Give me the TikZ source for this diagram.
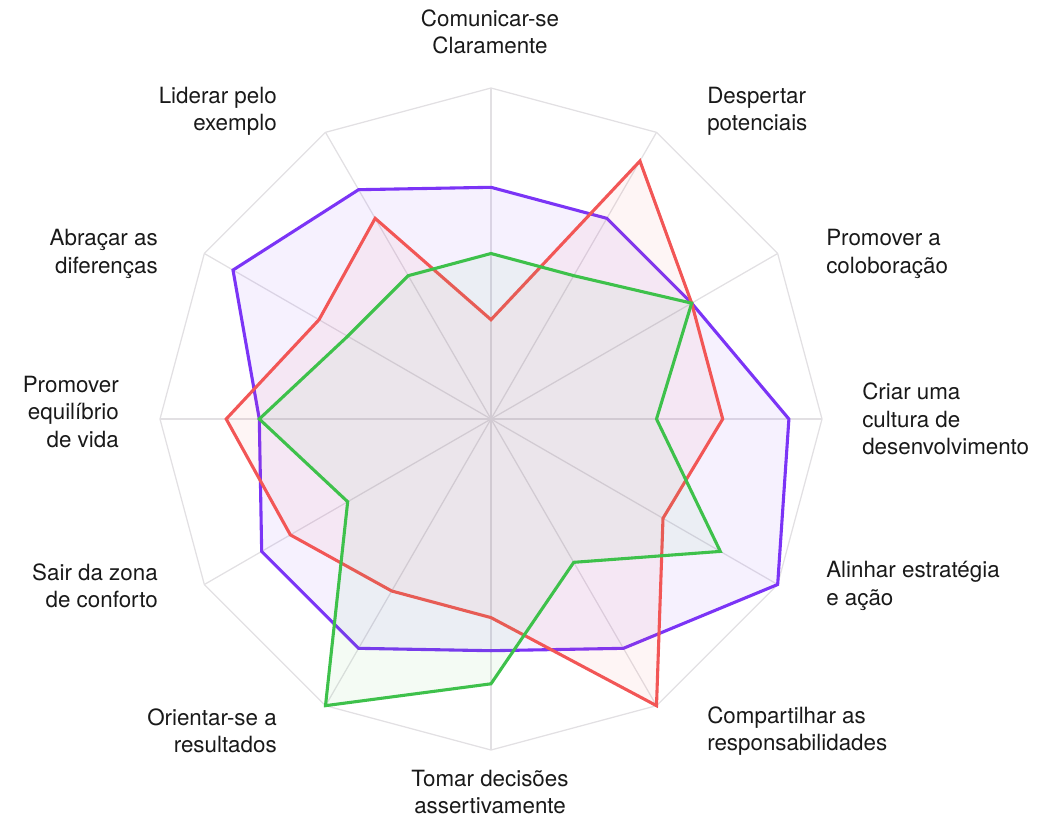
\documentclass[tikz,border=0pt]{standalone}
\usepackage{fontspec}
\setmainfont{TeX Gyre Heros}
\definecolor{gridgray}{HTML}{E2E0E3}
\definecolor{violetline}{HTML}{7B34F6}
\definecolor{redline}{HTML}{F25656}
\definecolor{greenline}{HTML}{3EC14B}

\begin{document}
\begin{tikzpicture}[
        x=0.025cm, y=-0.025cm,
        spoke/.style={draw=gridgray, line width=0.9pt},
        rim/.style={draw=gridgray, line width=0.9pt},
        series/.style={line width=2.2pt},
        lab/.style={inner sep=0pt, font=\fontsize{15.9}{19.4}\selectfont, text=black!90},
      ]
        \useasboundingbox (0,0) rectangle (1048,818);

        \begin{scope}[shift={(491,419)}]
        \coordinate (c) at (0,0);
        \foreach \k in {0,...,11}
          \coordinate (v\k) at (30*\k-90:331);
        \foreach \k in {0,...,11}
          \draw[spoke] (c) -- (v\k);
        \draw[rim] (v0) -- (v1) -- (v2) -- (v3) -- (v4) -- (v5) -- (v6)
          -- (v7) -- (v8) -- (v9) -- (v10) -- (v11) -- cycle;

        % scores, 0 to 10
        \foreach \k/\s in {0/7,1/7,2/7,3/9,4/10,5/8,6/7,7/8,8/8,9/7,10/9,11/8}
          \coordinate (pu\k) at (30*\k-90:33.1*\s);
        \foreach \k/\s in {0/3,1/9,2/7,3/7,4/6,5/10,6/6,7/6,8/7,9/8,10/6,11/7}
          \coordinate (re\k) at (30*\k-90:33.1*\s);
        \foreach \k/\s in {0/5,1/5,2/7,3/5,4/8,5/5,6/8,7/10,8/5,9/7,10/5,11/5}
          \coordinate (gr\k) at (30*\k-90:33.1*\s);

        \draw[series, draw=violetline, fill=violetline, fill opacity=0.07]
          (pu0) -- (pu1) -- (pu2) -- (pu3) -- (pu4) -- (pu5) -- (pu6)
          -- (pu7) -- (pu8) -- (pu9) -- (pu10) -- (pu11) -- cycle;
        \draw[series, draw=redline, fill=redline, fill opacity=0.06]
          (re0) -- (re1) -- (re2) -- (re3) -- (re4) -- (re5) -- (re6)
          -- (re7) -- (re8) -- (re9) -- (re10) -- (re11) -- cycle;
        \draw[series, draw=greenline, fill=greenline, fill opacity=0.06]
          (gr0) -- (gr1) -- (gr2) -- (gr3) -- (gr4) -- (gr5) -- (gr6)
          -- (gr7) -- (gr8) -- (gr9) -- (gr10) -- (gr11) -- cycle;
        \end{scope}

        \node[lab, align=center]            (comunicar)   at (490,32)  {Comunicar-se\\Claramente};
        \node[lab, align=left, anchor=west] (despertar)   at (707,111) {Despertar\\potenciais};
        \node[lab, align=left, anchor=west] (colaborar)   at (826,254) {Promover a\\coloboração};
        \node[lab, align=left, anchor=west] (cultura)     at (862,419) {Criar uma\\cultura de\\desenvolvimento};
        \node[lab, align=left, anchor=west] (alinhar)     at (826,586) {Alinhar estratégia\\e ação};
        \node[lab, align=left, anchor=west] (compartilhar) at (707,731) {Compartilhar as\\responsabilidades};
        \node[lab, align=center]            (decidir)     at (490,792) {Tomar decisões\\assertivamente};
        \node[lab, align=right, anchor=east] (resultados) at (277,731) {Orientar-se a\\resultados};
        \node[lab, align=right, anchor=east] (conforto)   at (158,586) {Sair da zona\\de conforto};
        \node[lab, align=right, anchor=east] (equilibrio) at (119,412) {Promover\\equilíbrio\\de vida};
        \node[lab, align=right, anchor=east] (diferencas) at (158,254) {Abraçar as\\diferenças};
        \node[lab, align=right, anchor=east] (liderar)    at (277,111) {Liderar pelo\\exemplo};
      \end{tikzpicture}
\end{document}
